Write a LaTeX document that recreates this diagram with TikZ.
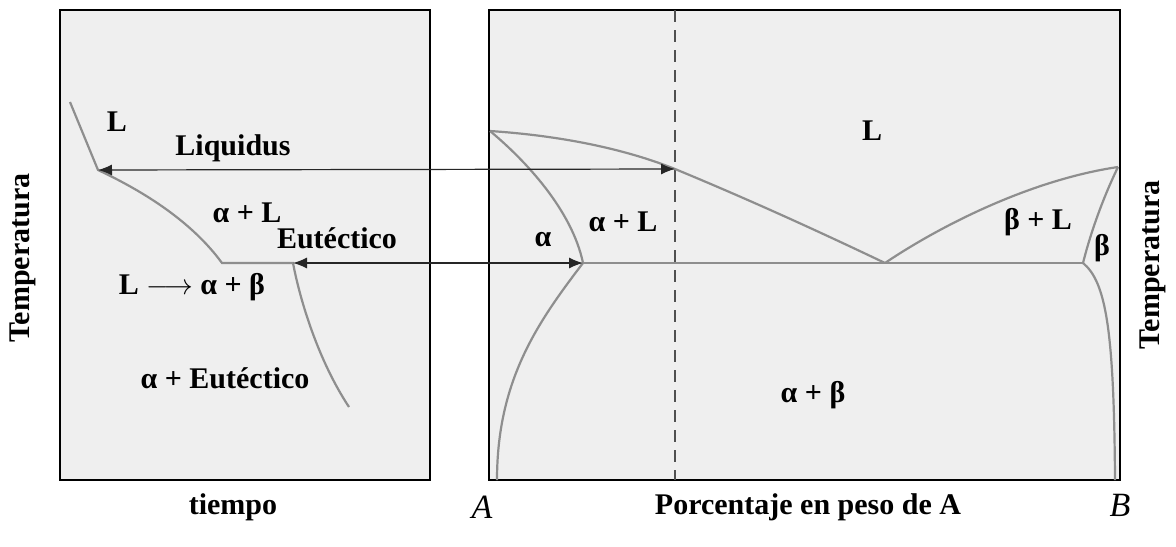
\documentclass[tikz,border=0pt]{standalone}
\usepackage{fontspec}
\setmainfont{Liberation Serif}
\usetikzlibrary{arrows.meta}
\definecolor{panelfill}{HTML}{EFEFEF}
\definecolor{phase}{HTML}{8E8E8E}
\definecolor{cut}{HTML}{505050}
\tikzset{
  panel/.style={draw=black, line width=1.3pt, fill=panelfill},
  bound/.style={draw=phase, line width=1.1pt},
  tie/.style={{Latex[length=7pt,width=5.5pt]}-{Latex[length=7pt,width=5.5pt]}, line width=0.6pt, draw=black!85},
  lab/.style={font=\fontsize{15}{18}\selectfont\bfseries},
  endlab/.style={font=\fontsize{17}{20}\selectfont\itshape},
}
\begin{document}
\begin{tikzpicture}[x=0.5pt, y=-0.5pt]
\useasboundingbox (0,0) rectangle (1176,546);

\draw[panel] (60,10) rectangle (430,480);
\draw[panel] (489,10) rectangle (1120,480);

\coordinate (liqT) at (98,170);
\coordinate (liqC) at (675,169);
\coordinate (eutT) at (293,263);
\coordinate (eutA) at (583,263);
\coordinate (eutE) at (885,263);
\coordinate (eutB) at (1083,263);
\coordinate (meltA) at (490,131);
\coordinate (meltB) at (1118,167);

% cooling curve
\draw[bound] (70,102) -- (liqT) .. controls (145,192) and (192,222) .. (222,263)
  -- (eutT) .. controls (300,300) and (318,360) .. (349,407);

% phase diagram
\draw[cut, line width=0.9pt, dash pattern=on 6pt off 4pt] (675,10) -- (675,480);
\draw[bound] (meltA) .. controls (580,137) and (640,155) .. (liqC)
  .. controls (750,200) and (820,232) .. (eutE);
\draw[bound] (eutE) .. controls (940,226) and (1030,180) .. (meltB);
\draw[bound] (meltA) .. controls (525,160) and (572,210) .. (eutA);
\draw[bound] (eutA) .. controls (538,322) and (497,380) .. (497,480);
\draw[bound] (meltB) .. controls (1102,200) and (1090,235) .. (eutB);
\draw[bound] (eutB) .. controls (1106,282) and (1114,330) .. (1115,480);
\draw[bound] (eutA) -- (eutB);

\draw[tie] (liqT) -- (liqC);
\draw[tie] (eutT) -- (eutA);

\node[lab] (l1) at (117,122) {L};
\node[lab] (liq) at (233,148) {Liquidus};
\node[lab] (al1) at (247,213) {α + L};
\node[lab] (eut) at (337,238) {Eutéctico};
\node[lab] (reac) at (192,287) {L \(\longrightarrow\) α + β};
\node[lab] (aeut) at (225,378) {α + Eutéctico};
\node[lab] (time) at (233,507) {tiempo};
\node[lab, rotate=90] (templ) at (23,258) {Temperatura};

\node[lab] (l2) at (872,131) {L};
\node[lab] (al2) at (623,222) {α + L};
\node[lab] (alpha) at (543,240) {α};
\node[lab] (ab) at (813,395) {α + β};
\node[lab] (bl) at (1038,222) {β + L};
\node[lab] (beta) at (1102,248) {β};
\node[lab, rotate=90] (tempr) at (1153,265) {Temperatura};
\node[endlab] (ca) at (482,507) {A};
\node[endlab] (cb) at (1120,505) {B};
\node[lab] (comp) at (808,507) {Porcentaje en peso de A};

\end{tikzpicture}
\end{document}
